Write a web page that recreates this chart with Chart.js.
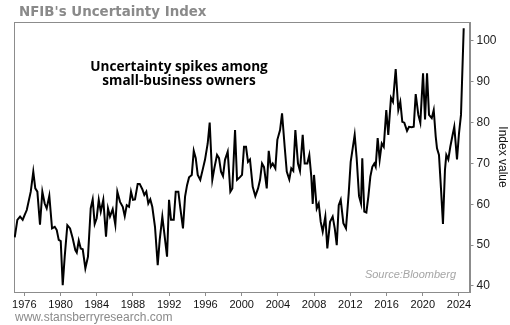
<!DOCTYPE html>
<html>
<head>
<meta charset="utf-8">
<title>NFIB's Uncertainty Index</title>
<script src="https://cdn.jsdelivr.net/npm/chart.js@4"></script>
<style>
  html, body { margin: 0; padding: 0; background: #fff; }
  #wrap { width: 510px; height: 325px; }
</style>
</head>
<body>
<div id="wrap"><canvas id="uncChart" width="510" height="325"></canvas></div>
<script>
// Index readings (decimal year, index value)
const years = [
  1974.94, 1975.23, 1975.53, 1975.82, 1976.04, 1976.27, 1976.71, 1976.99, 1977.21, 1977.44,
  1977.73, 1977.99, 1978.25, 1978.47, 1978.76, 1979.06, 1979.36, 1979.58, 1979.80, 1980.02,
  1980.24, 1980.46, 1980.75, 1981.05, 1981.34, 1981.63, 1981.79, 1982.01, 1982.23, 1982.45,
  1982.74, 1983.03, 1983.33, 1983.55, 1983.77, 1983.99, 1984.22, 1984.44, 1984.72, 1985.02,
  1985.24, 1985.46, 1985.76, 1986.05, 1986.27, 1986.57, 1986.87, 1987.09, 1987.31, 1987.56,
  1987.78, 1988.00, 1988.22, 1988.52, 1988.74, 1989.03, 1989.25, 1989.47, 1989.69, 1989.91,
  1990.13, 1990.43, 1990.73, 1990.95, 1991.24, 1991.46, 1991.76, 1991.98, 1992.20, 1992.50,
  1992.72, 1993.01, 1993.23, 1993.52, 1993.75, 1993.97, 1994.19, 1994.49, 1994.71, 1994.93,
  1995.15, 1995.43, 1995.73, 1995.95, 1996.25, 1996.47, 1996.76, 1996.98, 1997.28, 1997.50,
  1997.72, 1997.94, 1998.16, 1998.46, 1998.75, 1998.97, 1999.27, 1999.49, 1999.79, 2000.04,
  2000.26, 2000.48, 2000.70, 2000.92, 2001.22, 2001.51, 2001.81, 2002.03, 2002.25, 2002.47,
  2002.77, 2002.99, 2003.21, 2003.43, 2003.72, 2003.94, 2004.24, 2004.46, 2004.75, 2004.98,
  2005.26, 2005.48, 2005.70, 2005.93, 2006.22, 2006.44, 2006.74, 2006.96, 2007.25, 2007.47,
  2007.69, 2007.85, 2007.99, 2008.29, 2008.51, 2008.73, 2008.95, 2009.24, 2009.46, 2009.76,
  2010.05, 2010.28, 2010.50, 2010.72, 2010.94, 2011.23, 2011.52, 2011.82, 2012.04, 2012.26,
  2012.48, 2012.70, 2012.96, 2013.18, 2013.32, 2013.54, 2013.77, 2013.99, 2014.21, 2014.43,
  2014.65, 2014.80, 2015.02, 2015.24, 2015.47, 2015.69, 2015.97, 2016.19, 2016.49, 2016.71,
  2017.01, 2017.30, 2017.52, 2017.74, 2017.96, 2018.26, 2018.48, 2018.78, 2019.00, 2019.22,
  2019.51, 2019.73, 2020.03, 2020.25, 2020.47, 2020.69, 2020.99, 2021.21, 2021.43, 2021.57,
  2021.79, 2022.01, 2022.23, 2022.45, 2022.60, 2022.82, 2023.04, 2023.26, 2023.48, 2023.78,
  2024.00, 2024.22, 2024.52
];
const values = [
  51.9, 56.2, 57.0, 56.2, 57.4, 58.6, 63.1, 68.0, 63.9, 63.1,
  55.0, 63.1, 60.2, 59.0, 62.1, 54.1, 54.5, 53.7, 51.3, 51.0,
  40.2, 47.2, 54.9, 54.1, 51.7, 48.8, 48.2, 51.1, 49.2, 49.0,
  44.3, 47.2, 59.0, 61.2, 55.2, 56.6, 61.1, 58.2, 61.1, 52.1,
  59.0, 57.0, 58.8, 55.0, 63.1, 60.6, 59.4, 57.1, 59.8, 59.4,
  63.1, 61.1, 61.2, 65.0, 65.0, 63.7, 62.3, 63.1, 60.2, 61.2,
  59.4, 54.5, 45.1, 51.3, 57.0, 52.9, 47.2, 61.1, 56.2, 56.2,
  63.1, 63.1, 59.0, 54.1, 61.9, 64.7, 66.6, 67.2, 73.1, 71.3,
  67.2, 66.0, 68.8, 70.9, 74.9, 80.0, 66.0, 68.8, 72.1, 71.3,
  68.0, 66.9, 70.9, 72.9, 63.1, 63.9, 78.2, 66.0, 66.6, 67.2,
  74.1, 74.1, 70.4, 71.0, 64.3, 62.0, 63.9, 66.0, 70.0, 69.1,
  63.9, 73.1, 69.2, 70.0, 68.8, 75.8, 78.2, 82.3, 74.1, 68.0,
  66.1, 68.8, 68.2, 78.2, 70.0, 68.2, 77.0, 70.0, 70.0, 72.1,
  66.8, 60.1, 67.2, 59.0, 60.2, 55.7, 53.3, 57.0, 49.2, 55.7,
  57.0, 54.1, 50.0, 59.8, 61.1, 55.4, 54.1, 62.7, 70.4, 73.7,
  77.0, 71.3, 62.0, 60.2, 71.3, 58.2, 58.0, 61.9, 66.8, 69.2,
  70.0, 69.2, 76.2, 70.9, 74.9, 74.1, 83.1, 77.0, 86.1, 85.1,
  93.1, 83.1, 85.1, 80.2, 80.0, 78.0, 79.0, 78.9, 79.0, 87.0,
  81.9, 80.0, 92.1, 80.8, 92.1, 81.9, 81.1, 83.1, 76.6, 73.7,
  72.1, 63.9, 55.2, 68.4, 72.1, 71.0, 74.1, 76.6, 79.0, 71.0,
  77.4, 81.9, 103.1
];
const xTicks = [1976, 1980, 1984, 1988, 1992, 1996, 2000, 2004, 2008, 2012, 2016, 2020, 2024];
const yTicks = [40, 50, 60, 70, 80, 90, 100];

const axisGray = '#8c8c8c';

// frame, headline, note and footer text
const decorations = {
    id: 'decorations',
    beforeDatasetsDraw(chart) {
        const {ctx, chartArea: a} = chart;
        ctx.save();
        ctx.strokeStyle = axisGray;
        ctx.lineWidth = 1;
        ctx.strokeRect(Math.round(a.left) + 0.5, Math.round(a.top) + 0.5,
            Math.round(a.right - a.left), Math.round(a.bottom - a.top));
        ctx.restore();
    },
    afterDraw(chart) {
        const {ctx} = chart;
        ctx.save();
        ctx.textBaseline = 'alphabetic';

        ctx.fillStyle = '#8a8a8a';
        ctx.textAlign = 'left';
        ctx.font = 'bold 13.4px "DejaVu Sans"';
        ctx.fillText("NFIB's Uncertainty Index", 19, 16);

        ctx.fillStyle = '#000';
        ctx.textAlign = 'center';
        ctx.font = 'bold 13.6px "Open Sans"';
        ctx.fillText('Uncertainty spikes among', 179, 70.5);
        ctx.fillText('small-business owners', 179, 85);

        ctx.fillStyle = '#a6a6a6';
        ctx.textAlign = 'right';
        ctx.font = 'italic 11px "Liberation Sans"';
        ctx.fillText('Source:Bloomberg', 456, 277.5);

        ctx.fillStyle = '#8a8a8a';
        ctx.textAlign = 'left';
        ctx.font = '12px "Liberation Sans"';
        ctx.fillText('www.stansberryresearch.com', 15, 321);
        ctx.restore();
    }
};

const ctx = document.getElementById('uncChart').getContext('2d');
const chart = new Chart(ctx, {
    type: 'line',
    data: {
        datasets: [{
            label: 'Uncertainty Index',
            data: years.map((yr, i) => ({x: yr, y: values[i]})),
            borderColor: '#000',
            borderWidth: 2,
            pointRadius: 0,
            tension: 0,
            fill: false
        }]
    },
    options: {
        responsive: false,
        animation: false,
        events: [],
        layout: {
            padding: {top: 22, left: 14, right: 0, bottom: 0}
        },
        plugins: {
            legend: {display: false},
            title: {display: false},
            tooltip: {enabled: false}
        },
        scales: {
            x: {
                type: 'linear',
                min: 1974.86,
                max: 2025.16,
                afterBuildTicks: axis => { axis.ticks = xTicks.map(v => ({value: v})); },
                afterFit: axis => { axis.height = 33; },
                grid: {display: true, drawOnChartArea: false, drawTicks: true, tickLength: 4, color: axisGray},
                border: {display: true, color: axisGray},
                ticks: {
                    autoSkip: false,
                    maxRotation: 0,
                    padding: 2,
                    color: '#111',
                    font: {family: 'Liberation Sans', size: 11},
                    callback: v => String(v)
                }
            },
            y: {
                position: 'right',
                min: 38.53,
                max: 104.65,
                afterBuildTicks: axis => { axis.ticks = yTicks.map(v => ({value: v})); },
                afterFit: axis => { axis.width = 40.5; },
                grid: {display: true, drawOnChartArea: false, drawTicks: true, tickLength: 4, color: axisGray},
                border: {display: true, color: axisGray},
                ticks: {
                    padding: 3,
                    color: '#222',
                    font: {family: 'Liberation Sans', size: 12}
                },
                title: {
                    display: true,
                    text: 'Index value',
                    color: '#111',
                    padding: {top: 0, bottom: 0},
                    font: {family: 'Liberation Sans', size: 12}
                }
            }
        }
    },
    plugins: [decorations]
});
</script>
</body>
</html>
